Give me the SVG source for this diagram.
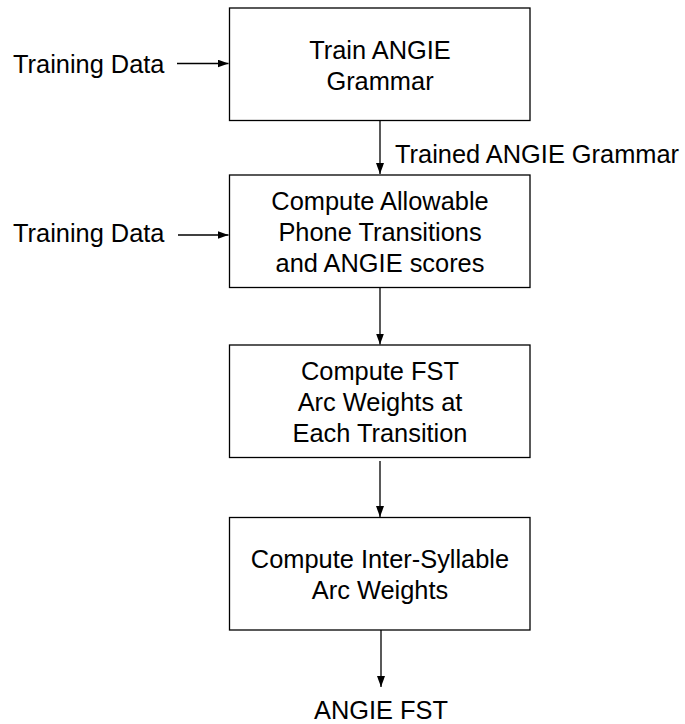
<svg xmlns="http://www.w3.org/2000/svg" width="685" height="724" viewBox="0 0 685 724">
<style>
.box{fill:#fff;stroke:#000;stroke-width:1.3}
.t{font-family:"Liberation Sans",Arial,sans-serif;font-size:25.4px;fill:#000}
.c{text-anchor:middle}
.ln{stroke:#000;stroke-width:1.3;fill:none}
</style>
<defs>
<marker id="ah" viewBox="0 0 11 8" refX="11" refY="4" markerWidth="11" markerHeight="8" markerUnits="userSpaceOnUse" orient="auto">
<path d="M0,0 L11,4 L0,8 Z" fill="#000"/>
</marker>
</defs>
<rect width="685" height="724" fill="#fff"/>
<g id="connectors">
<line class="ln" x1="177" y1="63.5" x2="228.5" y2="63.5" marker-end="url(#ah)"/>
<line class="ln" x1="178" y1="235" x2="228.5" y2="235" marker-end="url(#ah)"/>
<line class="ln" x1="380" y1="120.5" x2="380" y2="174" marker-end="url(#ah)"/>
<line class="ln" x1="380" y1="288" x2="380" y2="344.5" marker-end="url(#ah)"/>
<line class="ln" x1="380" y1="461" x2="380" y2="517" marker-end="url(#ah)"/>
<line class="ln" x1="381" y1="630" x2="381" y2="687" marker-end="url(#ah)"/>
</g>
<g id="in1"><text class="t" x="13" y="73">Training Data</text></g>
<g id="in2"><text class="t" x="13" y="242">Training Data</text></g>
<g id="lbl"><text class="t" x="395" y="163">Trained ANGIE Grammar</text></g>
<g id="n1">
<rect class="box" x="229.5" y="8" width="300.5" height="112.5"/>
<text class="t c" x="380" y="59">Train ANGIE</text>
<text class="t c" x="380" y="90">Grammar</text>
</g>
<g id="n2">
<rect class="box" x="229.5" y="175" width="300.5" height="112.5"/>
<text class="t c" x="380" y="210">Compute Allowable</text>
<text class="t c" x="380" y="241">Phone Transitions</text>
<text class="t c" x="380" y="272">and ANGIE scores</text>
</g>
<g id="n3">
<rect class="box" x="229.5" y="345" width="300.5" height="112.5"/>
<text class="t c" x="380" y="380">Compute FST</text>
<text class="t c" x="380" y="411">Arc Weights at</text>
<text class="t c" x="380" y="442">Each Transition</text>
</g>
<g id="n4">
<rect class="box" x="229.5" y="517.5" width="300.5" height="112.5"/>
<text class="t c" x="380" y="568">Compute Inter-Syllable</text>
<text class="t c" x="380" y="599">Arc Weights</text>
</g>
<g id="out"><text class="t c" x="381" y="719">ANGIE FST</text></g>
</svg>
